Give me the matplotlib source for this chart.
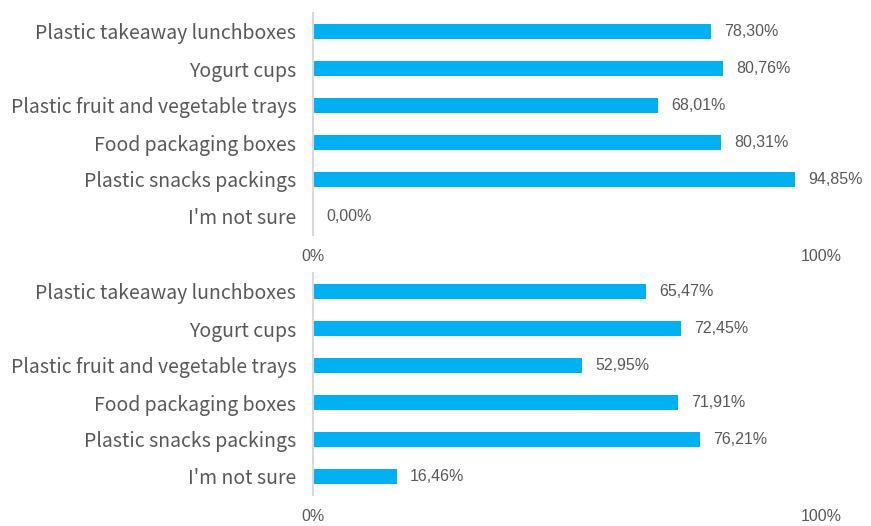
import matplotlib.pyplot as plt
from matplotlib import font_manager

categories = ["Plastic takeaway lunchboxes", "Yogurt cups",
              "Plastic fruit and vegetable trays", "Food packaging boxes",
              "Plastic snacks packings", "I'm not sure"]
top_values = [78.30, 80.76, 68.01, 80.31, 94.85, 0.00]
bottom_values = [65.47, 72.45, 52.95, 71.91, 76.21, 16.46]
tick_labels = ["0%", "100%"]

BAR = "#00B0F0"
TXT = "#595959"
names = {f.name for f in font_manager.fontManager.ttflist}
num_font = "Liberation Sans Narrow" if "Liberation Sans Narrow" in names else "Liberation Sans"

fig = plt.figure(figsize=(8.71, 5.26), dpi=100)
W, H = 871, 526


def panel(values, top_px, bottom_px):
    ax = fig.add_axes([313 / W, 1 - bottom_px / H, (821 - 313) / W, (bottom_px - top_px) / H])
    y = list(range(len(categories)))
    ax.barh(y, values, height=0.38, color=BAR)
    ax.set_xlim(0, 100)
    ax.set_ylim(len(categories) - 0.5, -0.5)
    ax.set_yticks(y)
    ax.set_yticklabels(categories, fontsize=14, color=TXT, family="Noto Sans CJK SC", fontweight="light")
    ax.set_xticks([0, 100])
    ax.set_xticklabels(tick_labels, fontsize=11.5, color=TXT, family=num_font)
    ax.tick_params(length=0)
    ax.tick_params(axis="y", pad=12)
    ax.tick_params(axis="x", pad=10)
    for s in ["top", "right", "bottom"]:
        ax.spines[s].set_visible(False)
    ax.spines["left"].set_color("#D9D9D9")
    ax.spines["left"].set_linewidth(1.5)
    for yi, v in zip(y, values):
        ax.text(v + 2.6, yi, f"{v:.2f}%".replace(".", ","), va="center", ha="left",
                fontsize=11.5, color=TXT, family=num_font)
    return ax


panel(top_values, 13, 235)
panel(bottom_values, 273, 495)

fig.savefig("out.png", dpi=100)
